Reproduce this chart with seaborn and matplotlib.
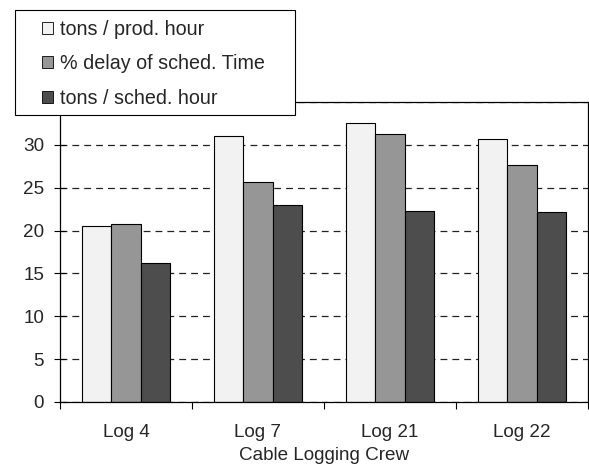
import matplotlib
matplotlib.use("Agg")
import matplotlib.pyplot as plt
from matplotlib.patches import Rectangle
import seaborn as sns
import pandas as pd

# Crew names and the three measures per crew
crews = ["Log 4", "Log 7", "Log 21", "Log 22"]
series = ["tons / prod. hour", "% delay of sched. Time", "tons / sched. hour"]
tons_per_prod_hour = [20.5, 31.0, 32.5, 30.7]
pct_delay_sched_time = [20.8, 25.7, 31.3, 27.7]
tons_per_sched_hour = [16.2, 23.0, 22.3, 22.2]
y_ticks = [0, 5, 10, 15, 20, 25, 30, 35]

colors = ["#f2f2f2", "#969696", "#4d4d4d"]

df = pd.DataFrame({
    "crew": crews * 3,
    "measure": [series[0]] * 4 + [series[1]] * 4 + [series[2]] * 4,
    "value": tons_per_prod_hour + pct_delay_sched_time + tons_per_sched_hour,
})

sns.set_style("white")
plt.rcParams["font.family"] = ["Liberation Sans", "DejaVu Sans"]
fs = 13.6

W, H = 589, 466
fig = plt.figure(figsize=(W / 100, H / 100), dpi=100)
ax = fig.add_axes([60 / W, (H - 402) / H, (588 - 60) / W, (402 - 102) / H])

# Horizontal dashed gridlines behind the bars
ax.set_axisbelow(True)
ax.yaxis.grid(True, color="#222222", linewidth=0.9, linestyle=(0, (5.5, 4)))

sns.barplot(data=df, x="crew", y="value", hue="measure", order=crews,
            hue_order=series, palette=colors, width=0.66, gap=0,
            edgecolor="black", linewidth=0.8, saturation=1, ax=ax)

handles, labels = ax.get_legend_handles_labels()
if ax.get_legend() is not None:
    ax.get_legend().remove()

ax.set_ylim(0, 35)
ax.set_xlim(-0.5, 3.5)
ax.set_yticks(y_ticks)
ax.set_yticklabels([str(t) for t in y_ticks])
ax.tick_params(axis="y", direction="inout", length=9, width=0.8, pad=7,
               left=True, labelsize=fs, color="black")

# Tick marks between groups, labels centred under each group
ax.set_xticks([-0.5, 0.5, 1.5, 2.5, 3.5])
ax.set_xticklabels([])
ax.set_xticks(range(len(crews)), minor=True)
ax.set_xticklabels(crews, minor=True)
ax.tick_params(axis="x", which="major", direction="out", length=5, width=0.8,
               bottom=True, color="black")
ax.tick_params(axis="x", which="minor", length=0, pad=16, labelsize=fs)

ax.set_xlabel("Cable Logging Crew", fontsize=fs, labelpad=4)
ax.set_ylabel("")

for side in ["left", "right", "top", "bottom"]:
    ax.spines[side].set_visible(True)
    ax.spines[side].set_color("black")
    ax.spines[side].set_linewidth(0.9)

# Legend box overlapping the top-left corner of the plot
frame = Rectangle((15 / W, 1 - 115 / H), (295 - 15) / W, (115 - 10) / H,
                  transform=fig.transFigure, facecolor="white",
                  edgecolor="black", linewidth=0.8, zorder=4)
fig.patches.append(frame)

leg = fig.legend(handles, labels, loc="upper left",
                 bbox_to_anchor=(42 / W, 1 - 20 / H), frameon=False,
                 borderpad=0, borderaxespad=0, handlelength=0.56,
                 handleheight=0.56, handletextpad=0.35, labelspacing=0.78,
                 fontsize=14.2)
leg.set_zorder(5)
for h in leg.legend_handles:
    h.set_edgecolor("black")
    h.set_linewidth(0.6)

fig.savefig("out.png", dpi=100)
